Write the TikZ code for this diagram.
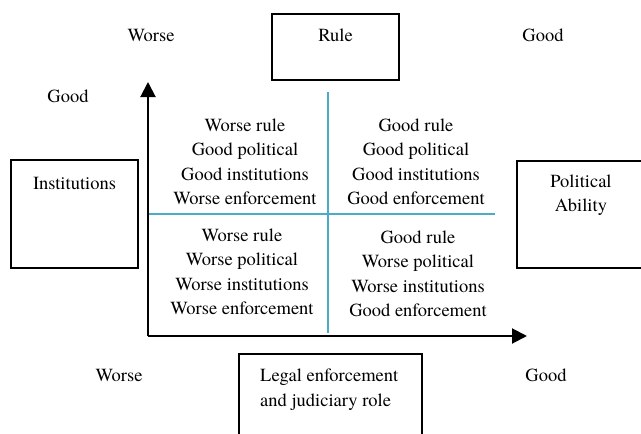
\documentclass[tikz,border=0pt]{standalone}
\usepackage{xcolor}
\usepackage{fontspec}
\setmainfont{Liberation Serif}
\newfontfamily\timesfont{texgyretermes-regular.otf}
\usepackage{tikz}
\usetikzlibrary{calc,arrows.meta,positioning}

\definecolor{gridblue}{RGB}{75,172,198}

\tikzset{
	box/.style={draw,line width=1.3pt,inner sep=0pt},
	lbl/.style={inner sep=0pt,align=center,font=\timesfont\fontsize{18.5}{24.5}\selectfont},
	axis/.style={line width=2pt,-{Triangle[length=15pt,width=15pt]}},
	grid line/.style={gridblue,line width=1.1pt}
}

\begin{document}
\begin{tikzpicture}[x=1pt,y=-1pt]
		    \useasboundingbox (0,0) rectangle (641,434);
		    \clip (0,0) rectangle (641,434);
		    \coordinate (O) at (148,336); % origin
		    \coordinate (ytip) at (148,82);
		    \coordinate (xtip) at (527,336);
		    \coordinate (vtop) at (328,92);
		    \coordinate (vbot) at (328,333);
		    \coordinate (hleft) at (148,214);
		    \coordinate (hright) at (495,214);
		    % boxes
		    \node[box,minimum width=127pt,minimum height=66pt] (rulebox) at (335.5,47) {};
		    \node[lbl] (rule) at (335.5,35) {Rule};
		    \node[box,minimum width=127pt,minimum height=108pt] (instbox) at (74.5,214) {};
		    \node[lbl] (inst) at (74.5,183) {Institutions};
		    \node[box,minimum width=128pt,minimum height=107pt] (polbox) at (581,214.5) {};
		    \node[lbl] (pol) at (581,195) {Political\\Ability};
		    \node[box,minimum width=183pt,minimum height=92pt] (legalbox) at (330.5,400) {};
		    \node[lbl,align=left,anchor=west] (legal) at (260,389.5) {Legal enforcement\\and judiciary role};
		    % worse / good labels
		    \node[lbl] (topworse) at (151,35) {Worse};
		    \node[lbl] (topgood) at (543,35) {Good};
		    \node[lbl] (leftgood) at (68,96) {Good};
		    \node[lbl] (botworse) at (119,375) {Worse};
		    \node[lbl] (botgood) at (546,375) {Good};
		    % quadrant lines
		    \draw[grid line] (vtop) -- (vbot);
		    \draw[grid line] (hleft) -- (hright);
		    % axes
		    \draw[axis] (O) -- (ytip);
		    \draw[axis] (O) -- (xtip);
		    % quadrants
		    \node[lbl] (q2) at (245,162) {Worse rule\\Good political\\Good institutions\\Worse enforcement};
		    \node[lbl] (q1) at (416,162) {Good rule\\Good political\\Good institutions\\Good enforcement};
		    \node[lbl] (q3) at (242,272) {Worse rule\\Worse political\\Worse institutions\\Worse enforcement};
		    \node[lbl] (q4) at (418,274) {Good rule\\Worse political\\Worse institutions\\Good enforcement};
	    \end{tikzpicture}
\end{document}
